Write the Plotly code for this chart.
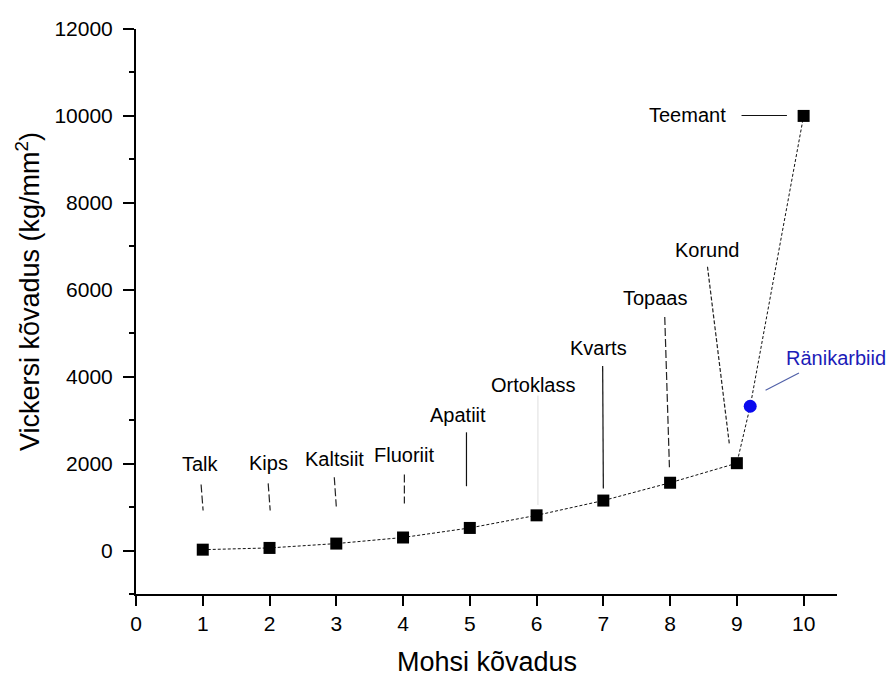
import plotly.graph_objects as go

# Data
minerals = ["Talk", "Kips", "Kaltsiit", "Fluoriit", "Apatiit", "Ortoklass",
            "Kvarts", "Topaas", "Korund", "Teemant"]
mohs = [1, 2, 3, 4, 5, 6, 7, 8, 9, 10]
vickers = [20, 60, 160, 300, 520, 810, 1150, 1560, 2010, 10000]

sic_name = "Ränikarbiid"
sic_mohs = 9.2
sic_vickers = 3320

y_tickvals = [0, 2000, 4000, 6000, 8000, 10000, 12000]
y_ticktext = ["0", "2000", "4000", "6000", "8000", "10000", "12000"]
x_tickvals = [0, 1, 2, 3, 4, 5, 6, 7, 8, 9, 10]
x_ticktext = ["0", "1", "2", "3", "4", "5", "6", "7", "8", "9", "10"]

# label positions (data coords) and leader line endpoints
label_x = [0.96, 1.98, 2.97, 4.02, 4.83, 5.94, 6.93, 7.78, 8.56, 8.86]
label_y = [1990, 2010, 2100, 2195, 3120, 3800, 4660, 5815, 6920, 10010]
lead_x0 = [0.975, 1.98, 2.97, 4.02, 4.95, 6.02, 6.99, 7.92, 8.56, 9.07]
lead_y0 = [1520, 1545, 1685, 1750, 2720, 3570, 4245, 5375, 6530, 10010]
lead_x1 = [1.005, 2.01, 3.0, 4.02, 4.95, 6.02, 7.0, 7.99, 8.89, 9.75]
lead_y1 = [920, 920, 1015, 1085, 1480, 1050, 1430, 1915, 2420, 10010]
lead_color = ["#222", "#222", "#222", "#222", "#111", "#e4e4e4", "#111", "#222", "#222", "#111"]
lead_dash = ["8px,3px", "8px,3px", "8px,3px", "8px,3px", "solid", "solid", "solid",
             "8px,3px", "4px,2px", "solid"]

sic_label = (10.49, 4430)
sic_lead = (9.43, 3690, 9.93, 4085)

font = "Liberation Sans, Arial, sans-serif"

# curve through all points including SiC (sorted by x)
curve_x = mohs[:9] + [sic_mohs] + [mohs[9]]
curve_y = vickers[:9] + [sic_vickers] + [vickers[9]]

fig = go.Figure()
fig.add_trace(go.Scatter(x=curve_x, y=curve_y, mode="lines",
                         line=dict(color="#111", width=1, dash="3px,2px"),
                         hoverinfo="skip", showlegend=False))
fig.add_trace(go.Scatter(x=mohs, y=vickers, mode="markers",
                         marker=dict(symbol="square", size=12, color="black"),
                         showlegend=False))
fig.add_trace(go.Scatter(x=[sic_mohs], y=[sic_vickers], mode="markers",
                         marker=dict(symbol="circle", size=13, color="#0a0aee"),
                         showlegend=False))

for i, name in enumerate(minerals):
    fig.add_shape(type="line", x0=lead_x0[i], y0=lead_y0[i], x1=lead_x1[i], y1=lead_y1[i],
                  line=dict(color=lead_color[i], width=1.2, dash=lead_dash[i]))
    fig.add_annotation(x=label_x[i], y=label_y[i], text=name, showarrow=False,
                       xanchor="right" if name == "Teemant" else "center", yanchor="middle",
                       font=dict(family=font, size=20, color="black"))

fig.add_shape(type="line", x0=sic_lead[0], y0=sic_lead[1], x1=sic_lead[2], y1=sic_lead[3],
              line=dict(color="#5060a8", width=1.2))
fig.add_annotation(x=sic_label[0], y=sic_label[1], text=sic_name, showarrow=False,
                   xanchor="center", yanchor="middle",
                   font=dict(family=font, size=20, color="#1c1cb8"))

# axis titles as annotations (positioned like reference)
fig.add_annotation(xref="paper", yref="paper", x=-0.155, y=0.535, xanchor="center", yanchor="middle",
                   text="Vickersi kõvadus (kg/mm<sup>2</sup>)", textangle=-90, showarrow=False,
                   font=dict(family=font, size=27, color="black"))
fig.add_annotation(xref="paper", yref="paper", x=0.5, y=0, yshift=-68, xanchor="center",
                   yanchor="middle", text="Mohsi kõvadus", showarrow=False,
                   font=dict(family=font, size=27, color="black"))

fig.update_layout(
    width=891, height=679,
    margin=dict(l=136, r=54, t=29, b=85),
    paper_bgcolor="white", plot_bgcolor="white",
    font=dict(family=font, size=20, color="black"),
)
fig.update_xaxes(range=[0, 10.5], tickvals=x_tickvals, ticktext=x_ticktext, showgrid=False,
                 zeroline=False, showline=True, linecolor="black", linewidth=2,
                 ticks="outside", ticklen=10, tickwidth=2, tickcolor="black",
                 tickfont=dict(size=21), automargin=False)
fig.update_yaxes(range=[-1000, 12000], tickvals=y_tickvals, ticktext=y_ticktext, showgrid=False,
                 zeroline=False, showline=True, linecolor="black", linewidth=2,
                 ticks="outside", ticklen=11, tickwidth=2, tickcolor="black",
                 tickfont=dict(size=21), ticklabelstandoff=6, automargin=False,
                 minor=dict(tickvals=list(range(-1000, 12000, 2000)), ticks="outside",
                            ticklen=5, tickwidth=2, tickcolor="black"))

fig.write_html("out.html")
